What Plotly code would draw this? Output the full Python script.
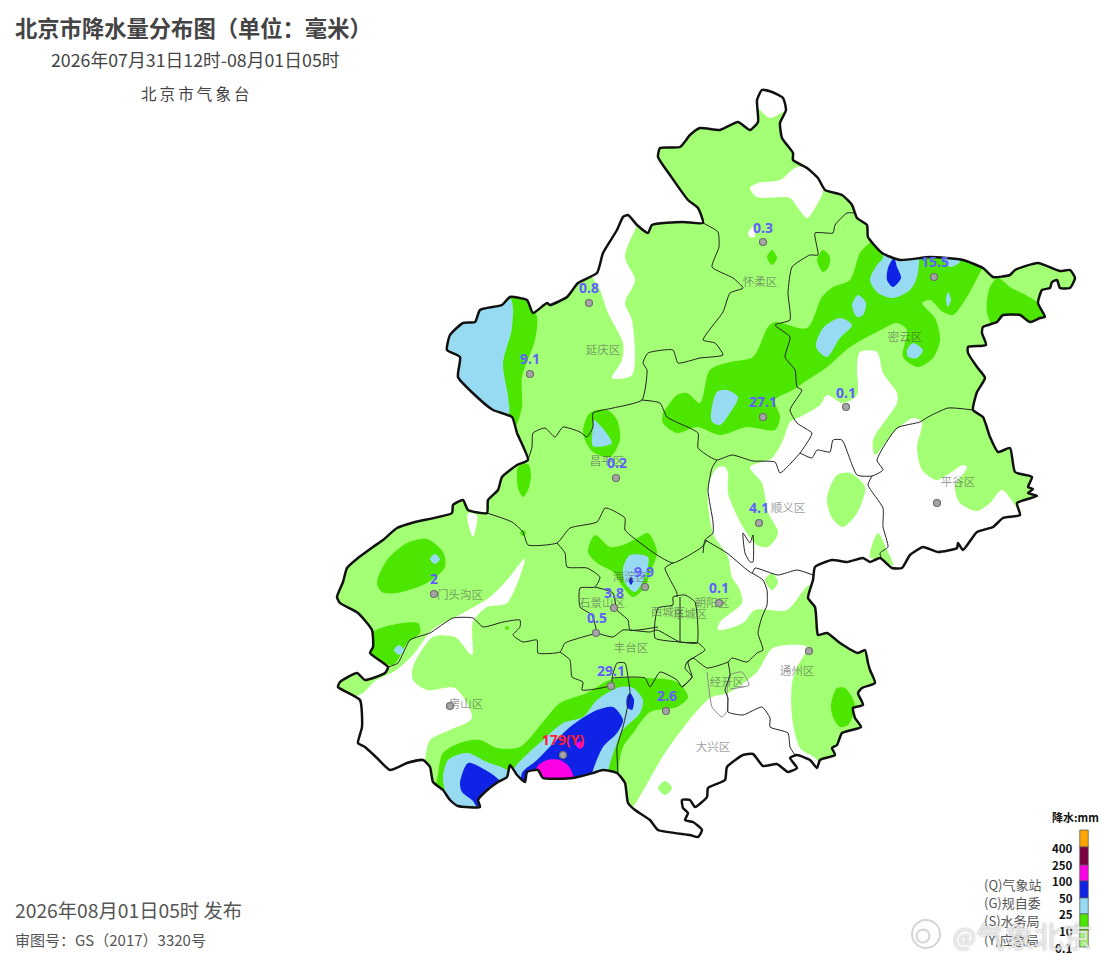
import plotly.graph_objects as go

# all map data below is in map units (x east, y south)
BOUNDARY = [
	(757,100),(762,90),(772,92),(783,98),(786,110),(780,123),(782,138),(793,153),(793,160),(807,168),(818,178),
	(825,190),(842,195),(852,205),(857,218),(867,225),(868,237),(882,253),(900,260),(930,257),(963,260),(983,268),
	(993,277),(1010,275),(1015,270),(1038,263),(1060,271),(1070,270),(1075,278),(1070,288),(1060,288),(1057,280),
	(1052,282),(1050,288),(1042,290),(1038,303),(1045,317),(1040,318),(1030,322),(1020,315),(1003,315),(997,322),
	(983,327),(982,333),(986,345),(968,347),(968,353),(977,367),(985,378),(977,392),(973,410),(983,417),(990,437),
	(998,452),(1010,448),(1015,472),(1032,477),(1028,487),(1033,489),(1028,493),(1037,496),(1017,503),(1020,515),
	(1003,518),(993,527),(977,532),(963,550),(958,543),(957,548),(938,552),(923,547),(910,555),(902,568),(892,568),
	(880,558),(870,562),(863,558),(847,562),(832,560),(815,567),(813,580),(808,598),(815,607),(817,630),(818,635),
	(827,633),(840,643),(858,653),(865,650),(868,663),(870,670),(875,683),(862,688),(858,693),(863,705),(853,708),
	(855,718),(861,727),(842,733),(837,745),(832,748),(835,755),(820,760),(817,768),(810,760),(797,755),(790,758),
	(797,768),(788,772),(777,764),(763,766),(753,754),(743,755),(727,767),(725,780),(708,788),(707,797),(695,807),
	(690,800),(682,800),(683,808),(688,813),(685,820),(693,822),(702,830),(698,837),(690,835),(658,830),(650,820),
	(635,810),(628,803),(625,783),(617,773),(603,770),(593,773),(573,778),(543,778),(538,770),(527,772),(525,782),
	(517,775),(510,765),(507,777),(498,782),(485,792),(478,800),(480,807),(458,806),(450,800),(443,790),(433,782),
	(430,767),(423,760),(407,763),(390,770),(377,758),(365,747),(358,743),(362,727),(360,700),(338,687),(340,682),
	(357,673),(365,680),(385,673),(388,667),(370,653),(373,647),(372,630),(358,613),(340,603),(337,597),(343,582),
	(347,568),(358,558),(373,547),(383,540),(397,528),(415,522),(452,513),(453,505),(463,500),(468,510),(487,513),
	(488,500),(498,490),(502,477),(517,465),(528,460),(517,433),(512,417),(493,410),(477,397),(458,377),(460,357),
	(447,350),(450,335),(463,323),(475,322),(480,310),(502,305),(510,297),(527,300),(533,313),(547,303),(550,305),
	(567,297),(578,283),(597,273),(603,253),(617,230),(623,217),(628,215),(637,225),(648,233),(652,225),(683,222),
	(703,223),(698,208),(688,200),(670,175),(658,157),(660,148),(680,147),(690,135),(700,128),(720,130),(738,122),
	(750,130),(758,122),
]

DISTRICT_LINES = [
	[(703,223),(718,232),(719,247),(712,267),(733,278),(743,288),(730,293),(723,312),(703,340),(715,343),(723,355),
	 (700,358),(678,363),(673,350),(648,353),(643,363),(647,370),(642,400),(613,408),(593,413),(593,427),(587,437),
	 (580,432),(563,427),(555,437),(545,428),(533,433),(532,447),(528,460)],
	[(642,400),(660,403),(667,417),(698,433),(698,448),(710,457),(717,460),(732,455),(753,461),(775,462),(780,473),
	 (800,453),(810,438),(812,433),(797,423),(790,410),(802,390),(797,387),(795,370),(785,357),(790,337),(775,325),
	 (790,320),(788,293),(792,267),(810,255),(818,255),(815,233),(833,233),(835,225),(847,213),(855,213)],
	[(800,453),(812,458),(817,450),(830,452),(833,440),(842,440),(857,475),(872,476),(883,470),(877,460),(897,428),
	 (920,422),(928,417),(948,408),(973,410)],
	[(872,476),(868,485),(883,508),(883,527),(888,547),(880,553),(882,560)],
	[(717,460),(712,468),(708,490),(713,522),(713,533),(705,540),(703,553)],
	[(705,540),(727,553),(752,573),(755,568),(778,575),(797,570),(813,575)],
	[(752,573),(763,580),(767,590),(767,605),(762,617),(758,633),(763,650),(757,653),(747,662),(732,658),(728,662),
	 (707,668),(693,658),(687,662),(685,668),(692,677),(682,687)],
	[(743,533),(745,553),(750,562),(753,562),(753,535),(750,543),(743,533)],
	[(487,513),(512,522),(523,532),(528,545),(557,543),(570,528),(597,522),(605,508),(612,510),(625,518),(625,530),
	 (647,548),(657,555),(673,563),(702,547),(707,540)],
	[(557,543),(565,553),(567,567),(587,568),(600,577),(595,587),(580,588),(580,607),(592,615),(597,633)],
	[(595,587),(613,593),(617,610),(628,620),(630,630),(658,627)],
	[(597,633),(613,637),(623,630),(650,632),(657,630),(680,642),(698,643),(705,650),(688,662),(692,677),(682,687),
	 (677,680),(660,672),(650,687),(645,678),(630,677),(612,678)],
	[(658,608),(673,605),(673,597),(685,595),(695,602),(698,630),(697,643),(680,642),(655,638),(658,608)],
	[(680,597),(680,642)],
	[(673,563),(665,568),(677,593),(677,597)],
	[(388,667),(398,663),(410,640),(430,633),(453,618),(473,618),(483,627),(503,622),(520,620),(520,627),(513,635),
	 (523,642),(537,640),(538,653),(560,652),(565,643),(590,635),(597,633)],
	[(560,652),(570,660),(572,677),(583,682),(582,690),(612,685),(612,678),(617,663),(625,663),(628,677),(630,693),
	 (623,727),(617,747),(618,773)],
	[(728,662),(730,675),(725,690),(728,698),(728,712),(743,715),(762,707),(770,718),(770,727),(788,733),(790,747),
	 (795,755)],
]
GRAY_LINES = [
	[(707,672),(710,697),(712,707),(722,717),(728,710),(727,692),(730,675),(742,672),(749,685),(730,689)],
]

# white = below 0.1 mm, cut out of the light green base
NO_RAIN = [
	[(755,85),(795,85),(795,108),(783,112),(770,118),(760,110),(755,105)],
	[(750,188),(758,183),(780,180),(797,167),(825,170),(823,192),(815,208),(807,218),(798,208),(790,198),(757,197)],
	[(748,233),(753,227),(755,237),(750,237)],
	[(637,225),(625,257),(635,280),(625,303),(632,320),(632,375),(612,378),(622,360),(623,343),(608,313),(600,290),
	 (590,270),(600,255),(620,205),(640,215)],
	[(860,352),(877,352),(883,373),(897,393),(897,403),(873,440),(875,455),(893,433),(913,418),(922,422),(917,447),
	 (922,470),(937,480),(950,473),(963,465),(967,467),(955,487),(960,503),(977,511),(990,503),(1002,490),(1017,508),
	 (1040,540),(900,600),(830,600),(810,585),(787,610),(755,610),(743,623),(718,630),(720,622),(742,603),(740,590),
	 (732,577),(728,557),(713,533),(708,487),(717,468),(725,467),(728,473),(728,493),(743,527),(757,545),(768,547),
	 (778,533),(768,512),(762,483),(750,467),(772,458),(783,440),(790,422),(800,417),(820,405),(827,395),(843,403),
	 (857,395),(857,367)],
	[(633,807),(667,750),(710,698),(728,693),(757,672),(773,648),(807,647),(797,667),(792,683),(792,717),(800,748),
	 (817,760),(820,790),(700,850),(620,820)],
	[(363,693),(375,681),(395,671),(413,655),(432,630),(463,613),(490,597),(507,580),(525,558),(507,603),(487,607),
	 (473,622),(472,655),(455,637),(433,637),(413,667),(413,680),(427,690),(455,688),(472,718),(450,730),(430,740),
	 (425,760),(420,790),(340,750),(340,705)],
	[(468,513),(477,515),(473,537),(468,523)],
]
LIGHT_GREEN_ISLANDS = [
	[(827,498),(837,475),(850,473),(865,487),(857,513),(843,527),(832,518)],
	[(870,557),(878,533),(887,550),(893,565),(880,560)],
	[(765,580),(772,573),(778,582),(772,590)],
	[(658,788),(665,781),(672,788),(665,795)],
]
DARK_GREEN = [
	[(377,583),(387,560),(407,543),(427,539),(443,552),(445,567),(427,583),(397,593),(382,592)],
	[(373,632),(418,623),(420,633),(407,643),(393,665),(370,653)],
	[(437,780),(443,753),(460,743),(480,740),(497,748),(520,747),(543,722),(560,703),(587,693),(610,680),(645,678),
	 (677,682),(688,697),(677,707),(650,712),(633,733),(623,747),(618,773),(620,800),(430,810)],
	[(588,552),(595,535),(610,547),(623,545),(637,538),(648,533),(657,552),(650,573),(645,587),(633,597),(623,587),
	 (613,572),(597,563)],
	[(510,298),(528,302),(537,317),(535,340),(522,377),(522,407),(515,427),(508,415),(508,397),(502,367),(512,327)],
	[(518,467),(528,464),(531,475),(528,490),(523,497),(518,488),(517,475)],
	[(583,430),(590,413),(607,410),(617,420),(620,440),(610,457),(593,452),(585,440)],
	[(767,257),(772,250),(777,258),(772,265)],
	[(667,407),(677,395),(687,393),(700,403),(710,370),(730,362),(753,357),(768,327),(775,322),(807,328),(822,297),
	 (833,287),(850,280),(860,253),(870,243),(880,240),(1000,250),(983,268),(967,297),(953,315),(943,312),(930,300),
	 (922,303),(935,318),(940,340),(933,358),(918,367),(903,357),(907,330),(897,323),(877,332),(850,347),(827,367),
	 (803,383),(793,390),(775,400),(780,417),(775,430),(747,427),(720,435),(697,427),(677,433),(663,423),(663,413)],
	[(987,313),(990,287),(998,278),(1010,287),(1037,302),(1047,317),(1045,335),(1000,335)],
	[(817,260),(823,250),(830,257),(828,268),(823,272)],
	[(831,705),(837,688),(845,688),(855,705),(848,725),(840,727),(833,717)],
	[(505,628),(507,626),(509,628),(507,630)],
	[(520,533),(523,530),(526,533),(523,536)],
]
LIGHT_BLUE = [
	[(430,559),(435,554),(440,559),(435,564)],
	[(394,650),(399,645),(404,650),(399,655)],
	[(443,780),(448,760),(467,753),(487,762),(507,770),(510,777),(490,800),(470,807),(453,807)],
	[(515,767),(543,740),(563,723),(583,717),(597,700),(620,687),(633,688),(643,700),(640,713),(623,730),(617,743),
	 (608,773),(610,800),(520,800),(510,780)],
	[(623,568),(630,555),(648,557),(645,577),(635,592),(625,583)],
	[(510,298),(512,327),(503,363),(508,397),(508,415),(440,420),(440,290)],
	[(593,427),(594,420),(612,443),(593,446)],
	[(870,280),(877,265),(883,258),(880,245),(917,245),(917,277),(910,290),(893,298),(878,293)],
	[(945,262),(945,255),(960,255),(960,262),(950,267)],
	[(946,300),(948,292),(951,300),(948,307)],
	[(852,305),(858,295),(866,303),(863,315),(857,317)],
	[(816,347),(823,328),(840,318),(852,325),(840,338),(827,357)],
	[(907,350),(913,343),(923,350),(917,358),(908,357)],
	[(711,413),(717,392),(727,390),(738,397),(730,413),(720,425),(712,422)],
]
BLUE = [
	[(460,783),(468,763),(480,767),(500,782),(487,797),(478,807),(472,800),(462,792)],
	[(522,773),(537,760),(570,727),(597,710),(613,707),(623,720),(617,733),(603,747),(593,770),(587,790),(523,790)],
	[(627,697),(630,693),(634,700),(632,710),(627,707)],
	[(629,581),(631,577),(633,581),(631,585)],
	[(894,258),(897,267),(901,278),(893,287),(887,280),(888,268)],
]
MAGENTA = [
	[(537,767),(547,760),(560,760),(570,768),(575,790),(537,790)],
	[(576,745),(580,741),(584,745),(580,749)],
]

STATION_X = [763, 934, 589, 530, 846, 763, 616, 937, 759, 434, 645, 614, 596, 719, 809, 450, 611, 666, 563]
STATION_Y = [242, 277, 303, 374, 407, 417, 478, 503, 523, 594, 587, 608, 633, 603, 651, 706, 686, 711, 755]

RAIN_LABELS = ["0.3", "15.5", "0.8", "9.1", "0.1", "27.1", "0.2", "4.1", "2", "9.9", "3.8", "0.5", "0.1", "29.1", "2.6"]
RAIN_LABEL_X = [763, 935, 589, 530, 846, 763, 617, 759, 434, 644, 614, 597, 719, 611, 667]
RAIN_LABEL_Y = [229, 263, 289, 360, 394, 403, 464, 509, 580, 573, 594, 619, 589, 672, 697]

DISTRICTS = ["怀柔区", "密云区", "延庆区", "昌平区", "顺义区", "平谷区", "门头沟区", "海淀区", "石景山区", "朝阳区",
	"西城区", "东城区", "丰台区", "房山区", "经开区", "通州区", "大兴区"]
DISTRICT_X = [760, 905, 603, 607, 788, 958, 460, 630, 602, 712, 668, 690, 631, 466, 727, 797, 713]
DISTRICT_Y = [283, 338, 351, 462, 509, 483, 596, 578, 604, 604, 613, 615, 649, 705, 683, 672, 748]

SCALE_COLORS = ["#FFA500", "#7D0040", "#FF00E6", "#0F23E6", "#97DBF2", "#4CE600", "#A3FF73"]
SCALE_TOPS = [830, 847, 865, 881, 898, 914, 930]
SCALE_HEIGHTS = [17, 18, 16, 17, 16, 16, 17]
SCALE_LABELS = ["400", "250", "100", "50", "25", "10", "0.1"]
SCALE_LABEL_Y = [848, 865, 881, 898, 914, 931, 948]
SOURCES = ["(Q)气象站", "(G)规自委", "(S)水务局", "(Y)应急局"]
SOURCE_Y = [884, 902, 920, 939]

CJK = "Noto Sans CJK SC"


def polygons(shapes, color, smoothing=0.8):
	xs, ys = [], []
	for pts in shapes:
		xs += [p[0] for p in pts] + [pts[0][0], None]
		ys += [p[1] for p in pts] + [pts[0][1], None]
	return go.Scatter(x=xs, y=ys, mode="lines", fill="toself", fillcolor=color,
		line={"width": 0, "shape": "spline", "smoothing": smoothing}, hoverinfo="skip")

def paths(lines, color, width, smoothing=0.5):
	xs, ys = [], []
	for pts in lines:
		xs += [p[0] for p in pts] + [None]
		ys += [p[1] for p in pts] + [None]
	return go.Scatter(x=xs, y=ys, mode="lines", hoverinfo="skip",
		line={"color": color, "width": width, "shape": "spline", "smoothing": smoothing})

def signed_area(pts):
	return sum(a[0] * b[1] - b[0] * a[1] for a, b in zip(pts, pts[1:] + pts[:1]))

def outside_mask():
	# oversized white rectangle with the city cut out, hides whatever overshoots the border
	rect = [(-200, -200), (1300, -200), (1300, 1200), (-200, 1200)]
	hole = BOUNDARY if signed_area(BOUNDARY) < 0 else BOUNDARY[::-1]
	xs = [p[0] for p in rect + rect[:1]] + [None] + [p[0] for p in hole + hole[:1]]
	ys = [p[1] for p in rect + rect[:1]] + [None] + [p[1] for p in hole + hole[:1]]
	return go.Scatter(x=xs, y=ys, mode="lines", fill="toself", fillcolor="white",
		line={"width": 0, "shape": "spline", "smoothing": 0.5}, hoverinfo="skip")

def label(x, y, text, size, color="#444444", bold=False, anchor="left"):
	return dict(x=x, y=y, text="<b>" + text + "</b>" if bold else text, showarrow=False, xanchor=anchor, yanchor="middle",
		font={"family": CJK, "size": size, "color": color}, xref="x", yref="y")


fig = go.Figure()
fig.add_trace(polygons([[(300, 60), (1100, 60), (1100, 860), (300, 860)]], "#A3FF73", 0))
fig.add_trace(polygons(NO_RAIN, "white"))
fig.add_trace(polygons(LIGHT_GREEN_ISLANDS, "#A3FF73"))
fig.add_trace(polygons(DARK_GREEN, "#4CE600"))
fig.add_trace(polygons(LIGHT_BLUE, "#97DBF2"))
fig.add_trace(polygons(BLUE, "#0F23E6"))
fig.add_trace(polygons(MAGENTA, "#FF00E6"))
fig.add_trace(outside_mask())
fig.add_trace(paths(GRAY_LINES, "#888888", 1))
fig.add_trace(paths(DISTRICT_LINES, "#222222", 1))
fig.add_trace(paths([BOUNDARY + BOUNDARY[:1]], "#111111", 2.5))

fig.add_trace(go.Scatter(x=DISTRICT_X, y=DISTRICT_Y, mode="text", text=DISTRICTS,
	textfont={"family": CJK, "size": 11.5, "color": "rgba(85,85,85,0.6)"}, hoverinfo="skip"))
fig.add_trace(go.Scatter(x=STATION_X, y=STATION_Y, mode="markers",
	marker={"size": 7, "color": "#a5a5a5", "line": {"color": "#6f6f6f", "width": 1.2}}, hoverinfo="skip"))
fig.add_trace(go.Scatter(x=RAIN_LABEL_X, y=RAIN_LABEL_Y, mode="text", text=RAIN_LABELS,
	textfont={"family": "Noto Sans", "size": 14, "color": "#6060FF", "weight": 700}, hoverinfo="skip"))
fig.add_trace(go.Scatter(x=[563], y=[741], mode="text", text=["179(Y)"],
	textfont={"family": "Noto Sans", "size": 14, "color": "#FF2030", "weight": 700}, hoverinfo="skip"))

# weibo logo of the watermark
fig.add_trace(go.Scatter(x=[926, 923], y=[934, 936], mode="markers", hoverinfo="skip",
	marker={"size": [28, 13], "color": "rgba(255,255,255,0.5)", "line": {"color": "#c4c4c4", "width": 2}}))

# rain scale sits on overlay axes, bars would otherwise land under the mask
fig.add_trace(go.Bar(x=[1084] * 7, y=SCALE_HEIGHTS, base=SCALE_TOPS, width=8.5, xaxis="x2", yaxis="y2",
	marker={"color": SCALE_COLORS, "line": {"color": "#555555", "width": 0.7}}, hoverinfo="skip"))

annotations = [
	label(13, 27, "北京市降水量分布图（单位：毫米）", 22.3, "#444444", True),
	label(195, 59, "2026年07月31日12时-08月01日05时", 17.8, "#444444", anchor="center"),
	label(195, 93, "北\u2009京\u2009市\u2009气\u2009象\u2009台", 15.5, "#444444", anchor="center"),
	label(13, 910, "2026年08月01日05时 发布", 19.3, "#555555"),
	label(13, 939, "审图号：GS（2017）3320号", 15, "#555555"),
	label(1075, 817, "降水:mm", 11, "#111111", True, "center"),
]
for text, y in zip(SCALE_LABELS, SCALE_LABEL_Y):
	annotations.append(label(1075, y, text, 11.5, "#111111", True, "right"))
for text, y in zip(SOURCES, SOURCE_Y):
	annotations.append(label(982, y, text, 13, "#555555"))
# watermark
for x, text, size in [(951, "@", 24), (974, "气象北京", 29)]:
	mark = label(x, 935, text, size, "rgba(255,255,255,0.7)")
	mark["font"]["shadow"] = "0 0 2px #777777"
	annotations.append(mark)

overlay = {"visible": False, "fixedrange": True}
fig.update_layout(
	width=1104, height=960, margin={"l": 0, "r": 0, "t": 0, "b": 0},
	paper_bgcolor="white", plot_bgcolor="white", showlegend=False,
	xaxis={"range": [0, 1104], **overlay},
	yaxis={"range": [960, 0], **overlay},
	xaxis2={"range": [0, 1104], "overlaying": "x", **overlay},
	yaxis2={"range": [960, 0], "overlaying": "y", **overlay},
	annotations=annotations,
)
fig.write_html("out.html", post_script="document.body.style.margin='0';", config={"displayModeBar": False})
